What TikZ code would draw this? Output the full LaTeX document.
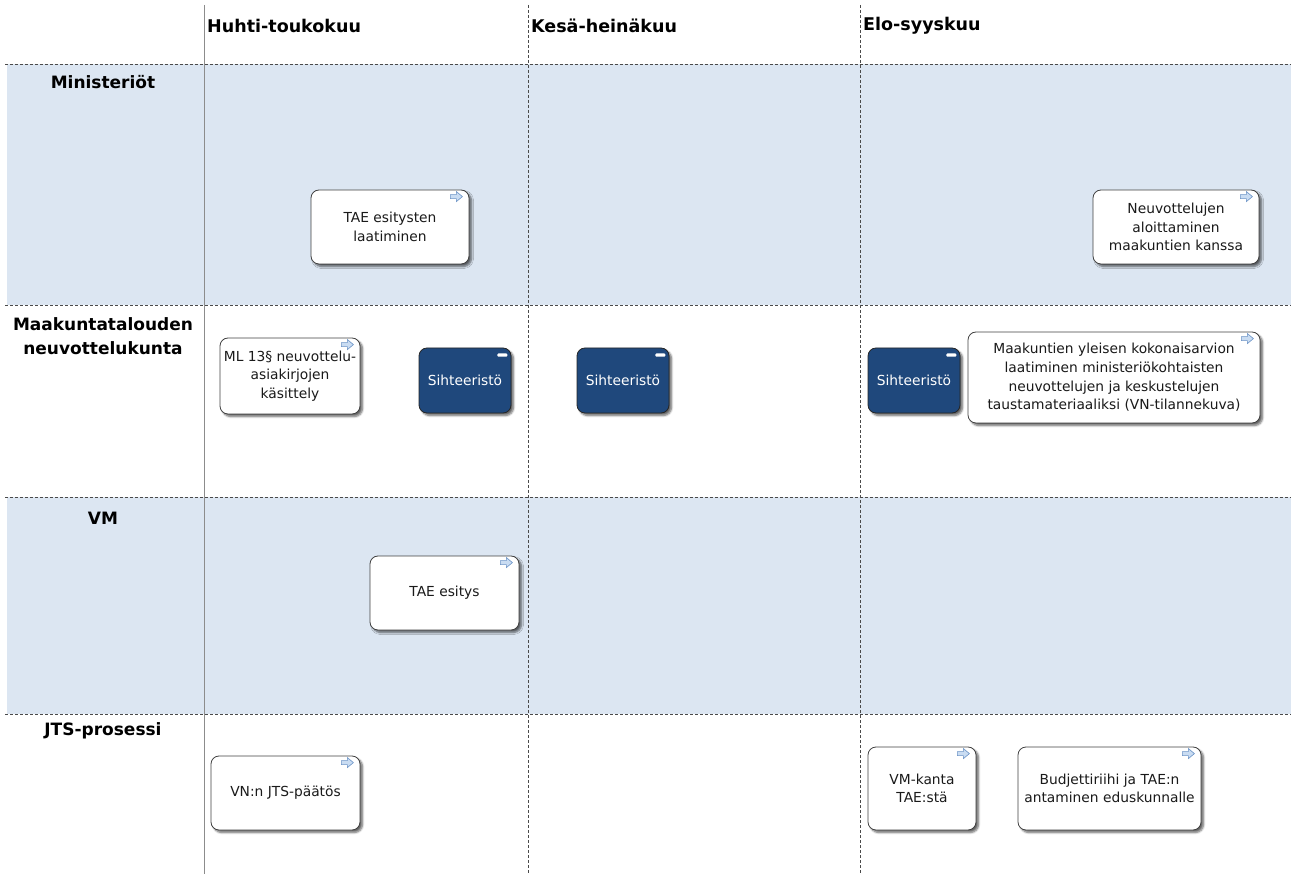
\documentclass[tikz,border=0pt]{standalone}
\usepackage{fontspec}
\setmainfont{DejaVu Sans}
\usetikzlibrary{shadows,shadows.blur}

\definecolor{laneblue}{HTML}{DCE6F2}
\definecolor{taskdark}{HTML}{1F487C}
\definecolor{iconfill}{HTML}{C9DCF2}
\definecolor{iconline}{HTML}{6B93C6}
\definecolor{gridline}{HTML}{8C8C8C}
\definecolor{dashline}{HTML}{4A4A4A}
\definecolor{boxtext}{HTML}{1A1A1A}

\tikzset{
  lanefill/.style={fill=laneblue, draw=none},
  lanesep/.style={draw=dashline, line width=0.8pt, dash pattern=on 3pt off 2pt},
  colsep/.style={draw=dashline, line width=0.8pt, dash pattern=on 3pt off 2pt},
  timeaxis/.style={draw=gridline, line width=1pt},
  colhead/.style={anchor=west, font=\fontsize{17.5}{20}\selectfont\bfseries, text=black, inner sep=0pt},
  lanehead/.style={align=center, font=\fontsize{17}{24}\selectfont\bfseries, text=black, inner sep=0pt},
  task/.style={draw=black!75, line width=0.8pt, fill=white, rounded corners=8pt,
    align=center, text=boxtext, inner sep=2pt,
    font=\fontsize{13.8}{18.6}\selectfont,
    blur shadow={shadow xshift=2.5pt, shadow yshift=-2.5pt, shadow blur radius=2pt,
      shadow blur steps=6, shadow opacity=60}},
  darktask/.style={task, fill=taskdark, draw=black!85, text=white},
  fwd/.pic={\draw[fill=iconfill, draw=iconline, line width=0.6pt]
      (-6,-2) -- (0,-2) -- (0,-5) -- (6,0) -- (0,5) -- (0,2) -- (-6,2) -- cycle;},
  bar/.pic={\fill[white, rounded corners=1pt] (-5,-1.6) rectangle (5,1.6);}
}

\begin{document}
\begin{tikzpicture}[x=1pt, y=-1pt]
\useasboundingbox (0,0) rectangle (1291,874);

% swimlane backgrounds
\fill[lanefill] (7,64) rectangle (1291,305);
\fill[lanefill] (7,497) rectangle (1291,714);

% lane separators
\foreach \yy in {64,305,497,714}
  \draw[lanesep] (5,\yy) -- (1291,\yy);

% period columns
\draw[timeaxis] (204,5) -- (204,874);
\draw[colsep] (528,5) -- (528,874);
\draw[colsep] (860,5) -- (860,874);

% column headings
\node[colhead] (h1) at (207,26) {Huhti-toukokuu};
\node[colhead] (h2) at (531,26) {Kesä-heinäkuu};
\node[colhead] (h3) at (863,26) {Elo-syyskuu};

% lane headings
\node[lanehead] (l1) at (103,82) {Ministeriöt};
\node[lanehead] (l2) at (103,336) {Maakuntatalouden\\neuvottelukunta};
\node[lanehead] (l3) at (103,518) {VM};
\node[lanehead] (l4) at (103,731) {JTS-prosessi};

% Ministeriöt
\node[task, minimum width=158pt, minimum height=74pt] (b1) at (390,227)
  {TAE esitysten\\laatiminen};
\node[task, minimum width=166pt, minimum height=74pt] (b2) at (1176,227)
  {Neuvottelujen\\aloittaminen\\maakuntien kanssa};

% Maakuntatalouden neuvottelukunta
\node[task, minimum width=140pt, minimum height=76pt, inner sep=0pt] (b3) at (290,376)
  {ML 13§ neuvottelu-\\asiakirjojen\\käsittely};
\node[darktask, minimum width=92pt, minimum height=65pt] (s1) at (465,380.5) {Sihteeristö};
\node[darktask, minimum width=92pt, minimum height=65pt] (s2) at (623,380.5) {Sihteeristö};
\node[darktask, minimum width=92pt, minimum height=65pt] (s3) at (914,380.5) {Sihteeristö};
\node[task, minimum width=292pt, minimum height=91pt] (b4) at (1114,377.5)
  {Maakuntien yleisen kokonaisarvion\\laatiminen ministeriökohtaisten\\neuvottelujen ja keskustelujen\\taustamateriaaliksi (VN-tilannekuva)};

% VM
\node[task, minimum width=149pt, minimum height=74pt] (b5) at (444.5,593) {TAE esitys};

% JTS-prosessi
\node[task, minimum width=149pt, minimum height=74pt] (b6) at (285.5,793) {VN:n JTS-päätös};
\node[task, minimum width=108pt, minimum height=83pt] (b7) at (922,788.5) {VM-kanta\\TAE:stä};
\node[task, minimum width=183pt, minimum height=83pt] (b8) at (1109.5,788.5)
  {Budjettiriihi ja TAE:n\\antaminen eduskunnalle};

% task markers
\foreach \n in {b1,b2,b3,b4,b5,b6,b7,b8}
  \pic at ([shift={(-13,7)}]\n.north east) {fwd};
\foreach \n in {s1,s2,s3}
  \pic at ([shift={(-9,7.5)}]\n.north east) {bar};
\end{tikzpicture}
\end{document}
